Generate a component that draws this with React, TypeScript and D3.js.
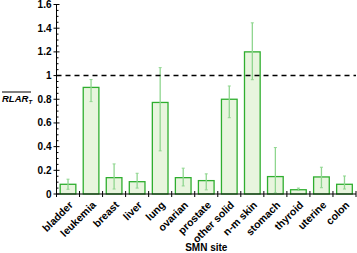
import React from "react";
import * as d3 from "d3";

const categories = ["bladder","leukemia","breast","liver","lung","ovarian","prostate","other solid","n-m skin","stomach","thyroid","uterine","colon"];
const values = [0.082,0.90,0.138,0.104,0.773,0.138,0.113,0.80,1.20,0.147,0.036,0.144,0.082];
const errLow = [0.04,0.78,0.042,0.05,0.364,0.068,0.035,0.644,0.965,0.01,0.03,0.053,0.042];
const errHigh = [0.125,0.966,0.254,0.175,1.067,0.218,0.17,0.912,1.445,0.392,0.05,0.226,0.152];
const yTicks = [0,0.2,0.4,0.6,0.8,1,1.2,1.4,1.6];
const refLine = 1;

const W = 357, H = 253;
const left = 56.5, right = 356, top = 4.5, bottom = 194;

export default function App() {
  const x = d3.scaleBand<string>().domain(categories).range([left, right]).paddingInner(0).paddingOuter(0);
  const y = d3.scaleLinear().domain([0, 1.6]).range([bottom, top]);
  const minor = d3.range(0, 1.6001, 0.05).filter(v => Math.abs(v * 5 - Math.round(v * 5)) > 1e-6);
  const bw = x.bandwidth();
  const barW = bw * 0.68;
  const font = "'Liberation Sans', Arial, sans-serif";
  return (
    <svg width={W} height={H} style={{ position: "absolute", left: 0, top: 0 }} fontFamily={font}>
      {categories.map((c, i) => {
        const cx = x(c)! + bw / 2;
        return (
          <g key={c}>
            <rect x={cx - barW / 2} y={y(values[i])} width={barW} height={bottom - y(values[i])}
              fill="#e8f5de" stroke="#2fae2f" strokeWidth={1.3} />
            <line x1={cx} x2={cx} y1={y(errLow[i])} y2={y(errHigh[i])} stroke="#8fd68f" strokeWidth={1.3} />
            <line x1={cx - 1.5} x2={cx + 1.5} y1={y(errLow[i])} y2={y(errLow[i])} stroke="#8fd68f" strokeWidth={1} />
            <line x1={cx - 1.5} x2={cx + 1.5} y1={y(errHigh[i])} y2={y(errHigh[i])} stroke="#8fd68f" strokeWidth={1} />
          </g>
        );
      })}
      <line x1={left} x2={right} y1={y(refLine)} y2={y(refLine)} stroke="#000" strokeWidth={1.5} strokeDasharray="5,4" />
      {/* y axis */}
      <line x1={left} x2={left} y1={top} y2={bottom} stroke="#000" strokeWidth={1} />
      {yTicks.map(t => (
        <g key={t}>
          <line x1={left - 3} x2={left + 3} y1={y(t)} y2={y(t)} stroke="#000" strokeWidth={1} />
          <text x={left - 5} y={y(t)} dy="0.35em" textAnchor="end" fontSize={10} fontWeight="bold">{d3.format("")(t)}</text>
        </g>
      ))}
      {minor.map(t => (
        <line key={t} x1={left} x2={left + 2} y1={y(t)} y2={y(t)} stroke="#000" strokeWidth={1} />
      ))}
      {/* x axis */}
      <line x1={left} x2={right} y1={bottom} y2={bottom} stroke="#000" strokeWidth={1.2} />
      {categories.map((c, i) => (
        <line key={"t" + c} x1={x(c)! + bw} x2={x(c)! + bw} y1={bottom - 3} y2={bottom + 3} stroke="#000" strokeWidth={1} />
      ))}
      <line x1={left} x2={left} y1={bottom} y2={bottom + 3} stroke="#000" strokeWidth={1} />
      {categories.map(c => {
        const cx = x(c)! + bw / 2 + 3;
        const ty = bottom + 9;
        return (
          <text key={"l" + c} x={cx} y={ty} textAnchor="end" fontSize={10.5} fontWeight="bold"
            transform={`rotate(-45,${cx},${ty})`} dy="0.35em">{c}</text>
        );
      })}
      <text x={(left + right) / 2} y={251} textAnchor="middle" fontSize={10} fontWeight="bold">SMN site</text>
      <g>
        <text x={2} y={99} dy="0.35em" textAnchor="start" fontSize={9.5} fontWeight="bold" fontStyle="italic">
          RLAR<tspan fontSize={6} dy="2">T</tspan>
        </text>
        <line x1={2} x2={31} y1={92} y2={92} stroke="#000" strokeWidth={1} />
      </g>
    </svg>
  );
}
